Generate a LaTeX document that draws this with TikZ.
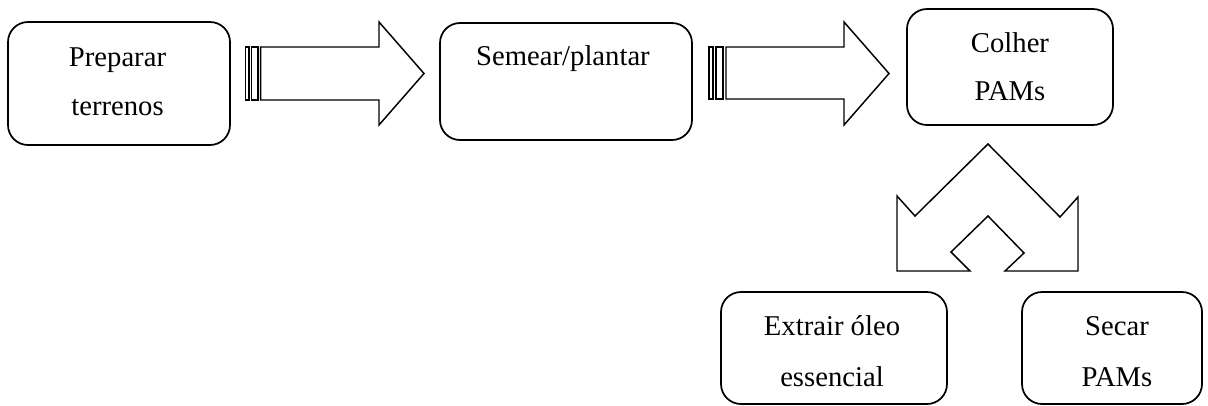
\documentclass[tikz,border=0pt]{standalone}
\usepackage{fontspec}
\setmainfont{Liberation Serif}
\begin{document}
\begin{tikzpicture}[x=0.75pt,y=-0.75pt,
  box/.style={draw,line width=1.3pt,rounded corners=15pt,inner sep=0pt},
  lbl/.style={anchor=base,inner sep=0pt,font=\fontsize{21.5}{26}\selectfont},
  barrow/.style={draw,line width=1.1pt,line join=miter,fill=white},
  stripe/.style={draw,line width=1pt,fill=white}]
\useasboundingbox (0,0) rectangle (1208,405);

% boxes
\node[box,minimum width=166.5pt,minimum height=92.25pt] (b1) at (119,83.5) {};
\node[box,minimum width=189pt,minimum height=87.75pt] (b2) at (566,81.5) {};
\node[box,minimum width=154.5pt,minimum height=87pt] (b3) at (1010,67) {};
\node[box,minimum width=169.5pt,minimum height=84pt] (b4) at (834,348) {};
\node[box,minimum width=135pt,minimum height=84pt] (b5) at (1112,348) {};

% labels
\node[lbl] (t1a) at (117.5,66) {Preparar};
\node[lbl] (t1b) at (117.5,115) {terrenos};
\node[lbl] (t2a) at (563,65) {Semear/plantar};
\node[lbl] (t3a) at (1010,52) {Colher};
\node[lbl] (t3b) at (1010,100) {PAMs};
\node[lbl] (t4a) at (832,335) {Extrair óleo};
\node[lbl] (t4b) at (832,386) {essencial};
\node[lbl] (t5a) at (1117,335) {Secar};
\node[lbl] (t5b) at (1117,386) {PAMs};

% striped arrow 1
\draw[stripe] (245.7,47) rectangle (249,100);
\draw[stripe] (251.7,47) rectangle (258,100);
\draw[barrow] (260.7,47) -- (379,47) -- (379,22) -- (424,73.5) -- (379,125) -- (379,100) -- (260.7,100) -- cycle;

% striped arrow 2
\draw[stripe] (709,47) rectangle (713,99);
\draw[stripe] (716,47) rectangle (723,99);
\draw[barrow] (726,47) -- (844,47) -- (844,22) -- (889,73.5) -- (844,125) -- (844,99) -- (726,99) -- cycle;

% split arrow
\draw[barrow] (988,144) -- (1060,217) -- (1078,197) -- (1078,271) -- (1005,271)
  -- (1024,253) -- (988,216) -- (951,252) -- (970,271) -- (897,271)
  -- (897,196) -- (915,216) -- cycle;
\end{tikzpicture}
\end{document}
